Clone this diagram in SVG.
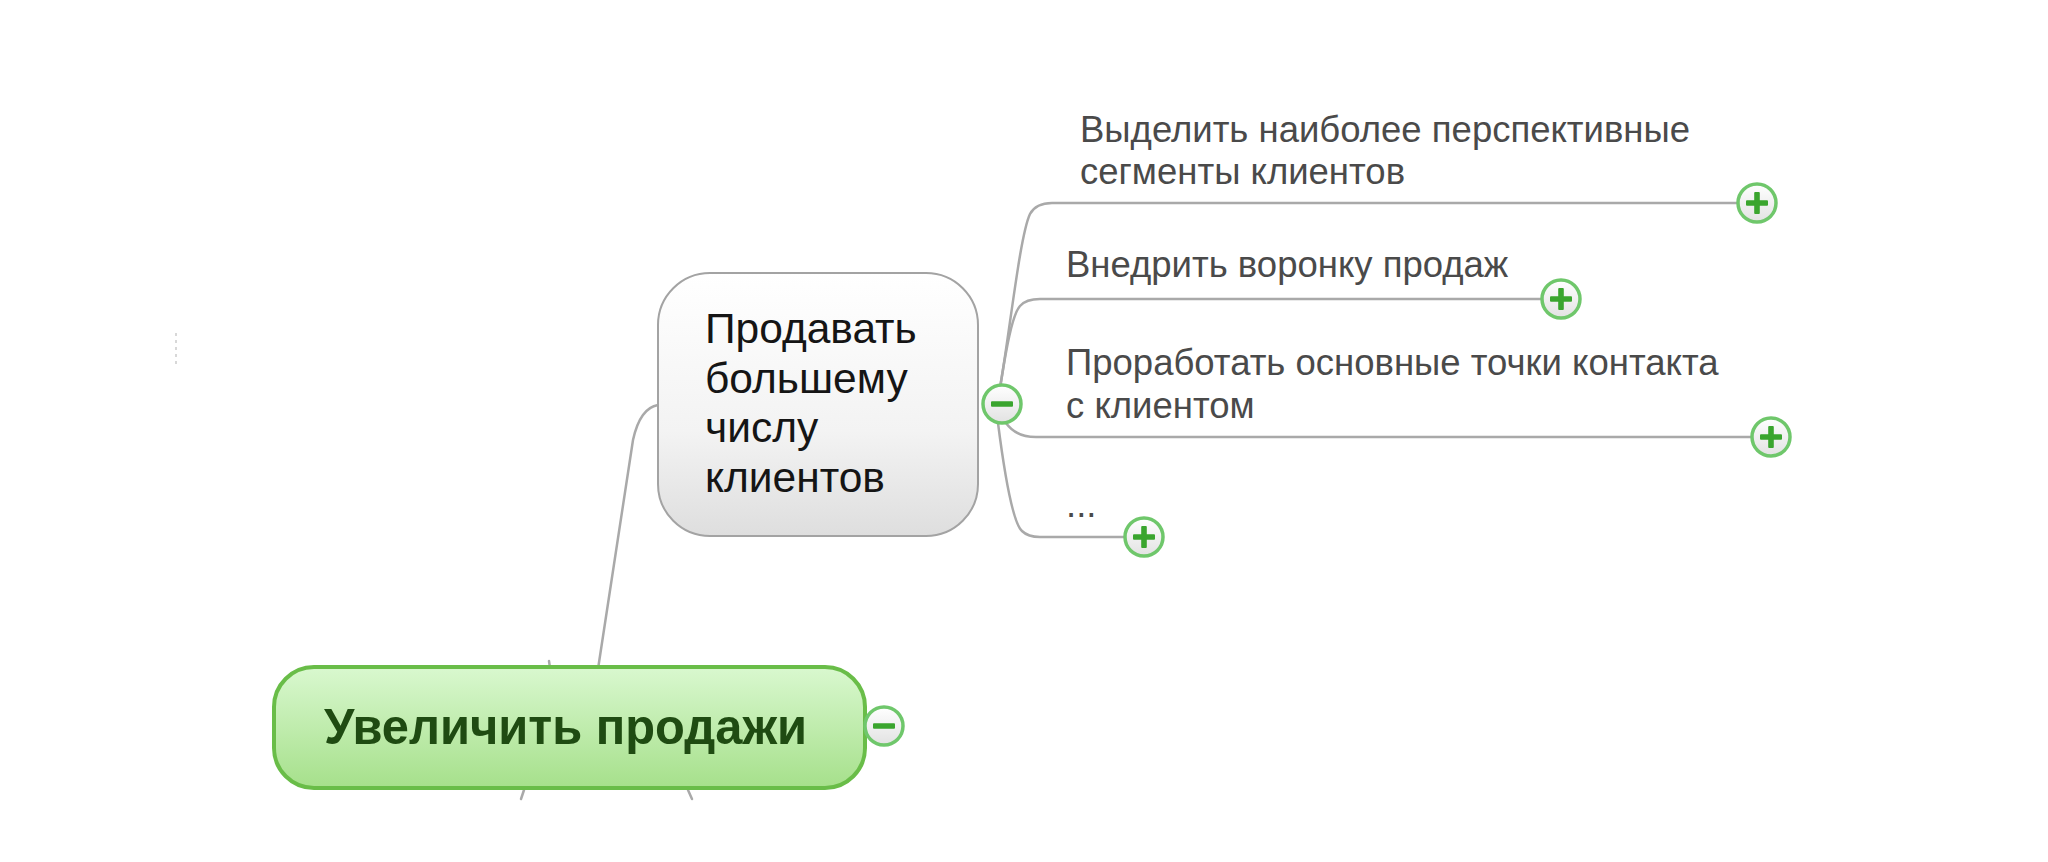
<svg xmlns="http://www.w3.org/2000/svg" width="2048" height="862" viewBox="0 0 2048 862">
<defs>
<linearGradient id="gGreen" x1="0" y1="0" x2="0" y2="1">
<stop offset="0" stop-color="#d9f8cf"/>
<stop offset="1" stop-color="#a6e08b"/>
</linearGradient>
<linearGradient id="gGray" x1="0" y1="0" x2="0" y2="1">
<stop offset="0" stop-color="#ffffff"/>
<stop offset="0.6" stop-color="#f3f3f3"/>
<stop offset="1" stop-color="#dedede"/>
</linearGradient>
<linearGradient id="gBtn" x1="0" y1="0" x2="0" y2="1">
<stop offset="0" stop-color="#ffffff"/>
<stop offset="1" stop-color="#e2e2e2"/>
</linearGradient>
<g id="plus">
<circle r="19" fill="url(#gBtn)" stroke="#6fc76b" stroke-width="3.5"/>
<rect x="-11" y="-2.8" width="22" height="5.6" rx="1" fill="#3aa52e"/>
<rect x="-2.8" y="-11" width="5.6" height="22" rx="1" fill="#3aa52e"/>
</g>
<g id="minus">
<circle r="19" fill="url(#gBtn)" stroke="#6fc76b" stroke-width="3.5"/>
<rect x="-11" y="-2.8" width="22" height="5.6" rx="1" fill="#3aa52e"/>
</g>
</defs>
<style>
.conn{fill:none;stroke:#a9a9a9;stroke-width:2.5;stroke-linecap:round}
.leaf{font-family:"Liberation Sans",Arial,sans-serif;font-size:36.5px;fill:#4a4a4a}
.mid{font-family:"Liberation Sans",Arial,sans-serif;font-size:42.5px;fill:#151515}
.root{font-family:"Liberation Sans",Arial,sans-serif;font-size:50px;font-weight:bold;fill:#1f4b12}
</style>
<rect width="2048" height="862" fill="#ffffff"/>
<line x1="176" y1="333" x2="176" y2="366" stroke="#d8d8d8" stroke-width="2" stroke-dasharray="3 4"/>
<g id="connectors">
<path class="conn" d="M598,669 L633,440 Q640,408 658,405"/>
<path class="conn" d="M1000,388 C1010,330 1020,235 1030,214 Q1036,203 1052,203 L1739,203"/>
<path class="conn" d="M1000,388 C1006,350 1012,315 1020,306 Q1026,299 1040,299 L1543,299"/>
<path class="conn" d="M1006,423 Q1016,437 1036,437 L1753,437"/>
<path class="conn" d="M998,423 C1004,470 1012,522 1022,531 Q1028,537 1040,537 L1126,537"/>
<line class="conn" x1="549" y1="661" x2="550" y2="668"/>
<line class="conn" x1="524" y1="790" x2="521" y2="799"/>
<line class="conn" x1="688" y1="790" x2="692" y2="799"/>
</g>
<g id="root">
<rect x="274" y="667" width="591" height="121" rx="40" fill="url(#gGreen)" stroke="#69bd48" stroke-width="4"/>
<text class="root" x="324" y="744" textLength="483" lengthAdjust="spacingAndGlyphs">Увеличить продажи</text>
<use href="#minus" x="884" y="726"/>
</g>
<g id="mid">
<rect x="658" y="273" width="320" height="263" rx="52" fill="url(#gGray)" stroke="#a3a3a3" stroke-width="2"/>
<text class="mid"><tspan x="705" y="343">Продавать</tspan><tspan x="705" y="393">большему</tspan><tspan x="705" y="442">числу</tspan><tspan x="705" y="492">клиентов</tspan></text>
<use href="#minus" x="1002" y="404"/>
</g>
<g id="leaf1">
<text class="leaf"><tspan x="1080" y="142">Выделить наиболее перспективные</tspan><tspan x="1080" y="184">сегменты клиентов</tspan></text>
<use href="#plus" x="1757" y="203"/>
</g>
<g id="leaf2">
<text class="leaf" x="1066" y="277">Внедрить воронку продаж</text>
<use href="#plus" x="1561" y="299"/>
</g>
<g id="leaf3">
<text class="leaf"><tspan x="1066" y="375">Проработать основные точки контакта</tspan><tspan x="1066" y="418">с клиентом</tspan></text>
<use href="#plus" x="1771" y="437"/>
</g>
<g id="leaf4">
<text class="leaf" x="1066" y="517">...</text>
<use href="#plus" x="1144" y="537"/>
</g>
</svg>
